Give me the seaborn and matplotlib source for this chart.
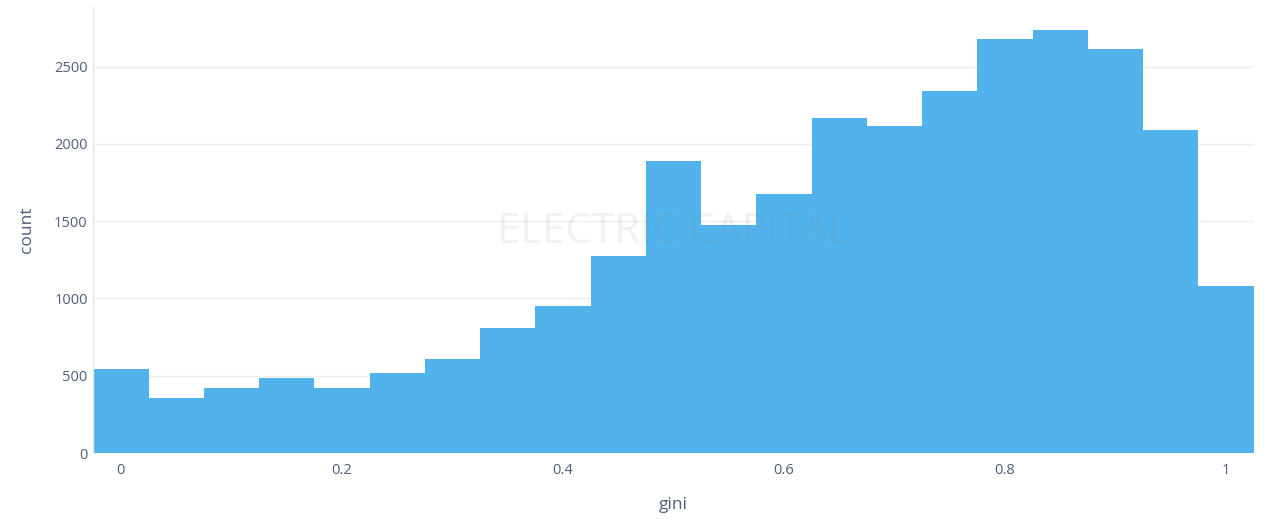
import numpy as np
import pandas as pd
import matplotlib
matplotlib.use("Agg")
import matplotlib.pyplot as plt
import seaborn as sns

# Data (bin centers of width 0.05 and counts)
gini_bins = [0.00, 0.05, 0.10, 0.15, 0.20, 0.25, 0.30, 0.35, 0.40, 0.45, 0.50,
             0.55, 0.60, 0.65, 0.70, 0.75, 0.80, 0.85, 0.90, 0.95, 1.00]
counts = [542, 357, 422, 484, 422, 518, 607, 807, 950, 1272, 1890,
          1475, 1675, 2170, 2115, 2340, 2682, 2739, 2612, 2091, 1080]
x_ticks = [0, 0.2, 0.4, 0.6, 0.8, 1.0]
x_tick_labels = ["0", "0.2", "0.4", "0.6", "0.8", "1"]
y_ticks = [0, 500, 1000, 1500, 2000, 2500]

sns.set_theme(style="white")
plt.rcParams['font.family'] = ['Open Sans', 'DejaVu Sans']

df = pd.DataFrame({"gini": gini_bins, "count": counts})
width = 0.05
lo = gini_bins[0] - width / 2
hi = gini_bins[-1] + width / 2

fig = plt.figure(figsize=(12.74, 5.28), dpi=100)
ax = fig.add_axes([0.0732, 0.142, 0.9108, 0.8441])

sns.histplot(data=df, x="gini", weights="count", binwidth=width,
             binrange=(lo, hi), ax=ax,
             color="#52b3ec", alpha=1, linewidth=0, edgecolor="none", zorder=2)

ax.set_xlim(lo, hi)
ax.set_ylim(0, 2884)
ax.set_xticks(x_ticks)
ax.set_xticklabels(x_tick_labels)
ax.set_yticks(y_ticks)

text_color = "#4f5d78"
ax.tick_params(axis="both", length=0, labelsize=10.5, colors=text_color)
ax.tick_params(axis="x", pad=7)
ax.tick_params(axis="y", pad=4)
ax.grid(axis="y", color="#eeeeee", linewidth=1, zorder=0)
ax.grid(axis="x", visible=False)
ax.set_axisbelow(True)

for s in ["top", "right", "bottom"]:
    ax.spines[s].set_visible(False)
ax.spines["left"].set_color("#e6e6e6")
ax.spines["left"].set_linewidth(1)

ax.set_xlabel("gini", fontsize=12.5, color=text_color, labelpad=14)
ax.set_ylabel("count", fontsize=12.5, color=text_color, labelpad=14)

ax.text(0.5, 0.496, "ELECTRIC CAPITAL", transform=ax.transAxes,
        ha="center", va="center", fontsize=30, color="gray", alpha=0.11,
        zorder=5)

fig.savefig("out.png", dpi=100)
